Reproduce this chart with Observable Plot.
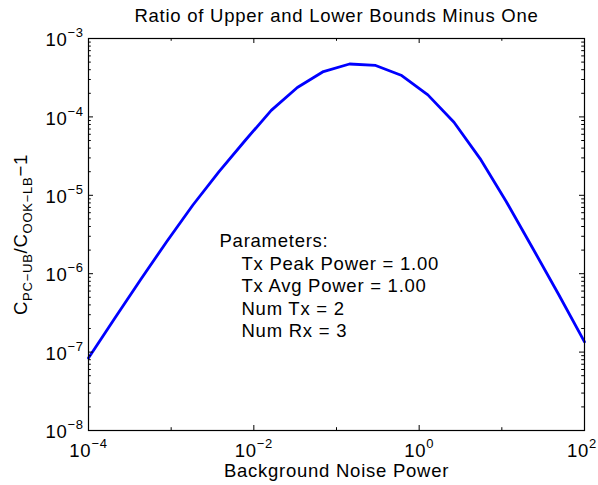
<!DOCTYPE html>
<html>
<head>
<meta charset="utf-8">
<script src="https://cdn.jsdelivr.net/npm/d3@7"></script>
<script src="https://cdn.jsdelivr.net/npm/@observablehq/plot@0.6"></script>
<style>
  html, body { margin: 0; padding: 0; background: #fff; }
</style>
</head>
<body>
<div id="chart"></div>
<script>
// ---- data ----
const noisePower = [1e-4, 2.069e-4, 4.281e-4, 8.859e-4, 1.833e-3, 3.793e-3, 7.848e-3, 1.624e-2, 3.360e-2, 6.952e-2,
                    0.1438, 0.2976, 0.6158, 1.274, 2.637, 5.456, 11.29, 23.36, 48.33, 100];
const ratioMinusOne = [8.41e-8, 2.68e-7, 8.43e-7, 2.58e-6, 7.52e-6, 2.01e-5, 5.00e-5, 1.21e-4, 2.37e-4, 3.79e-4,
                       4.73e-4, 4.53e-4, 3.37e-4, 1.91e-4, 8.55e-5, 2.94e-5, 8.34e-6, 2.16e-6, 5.51e-7, 1.35e-7];

const xDomain = [1e-4, 1e2];
const yDomain = [1e-8, 1e-3];
const xMajorTicks = [1e-4, 1e-2, 1e0, 1e2];
const xMajorLabels = ["10^{−4}", "10^{−2}", "10^{0}", "10^{2}"];
const xMinorTicks = [1e-3, 1e-1, 1e1];
const yMajorTicks = [1e-8, 1e-7, 1e-6, 1e-5, 1e-4, 1e-3];
const yMajorLabels = ["10^{−8}", "10^{−7}", "10^{−6}", "10^{−5}", "10^{−4}", "10^{−3}"];
const yMinorMantissas = [2, 3, 4, 5, 6, 7, 8, 9];

const titleText = "Ratio of Upper and Lower Bounds Minus One";
const xLabelText = "Background Noise Power";
const yLabelText = "C_{PC−UB}/C_{OOK−LB}−1";
const paramHeader = "Parameters:";
const paramLines = ["Tx Peak Power = 1.00", "Tx Avg Power = 1.00", "Num Tx = 2", "Num Rx = 3"];

// ---- layout ----
const W = 598, H = 485;
const mL = 88, mR = 14, mT = 38, mB = 55;
const innerW = W - mL - mR, innerH = H - mT - mB;
const majorLen = 5, minorLen = 2.8;
const FONT = "18.5px";
const SMALL = 13;
const SUP_RAISE = 9, SUB_DROP = 5;

const yMinorTicks = [];
for (const d of yMajorTicks.slice(0, -1)) for (const m of yMinorMantissas) yMinorTicks.push(d * m);

const curve = noisePower.map((x, i) => ({x, y: ratioMinusOne[i]}));
const tickStyle = {stroke: "black", strokeWidth: 1};

const svg = Plot.plot({
  width: W, height: H,
  marginLeft: mL, marginRight: mR, marginTop: mT, marginBottom: mB,
  style: {fontFamily: "'Liberation Sans', Arial, Helvetica, sans-serif", fontSize: FONT, letterSpacing: "0.75px", background: "#fff", color: "black"},
  x: {type: "log", domain: xDomain, axis: null},
  y: {type: "log", domain: yDomain, axis: null},
  marks: [
    Plot.line(curve, {x: "x", y: "y", stroke: "#0000ff", strokeWidth: 2.8, strokeLinejoin: "round"}),
    Plot.frame({stroke: "black", strokeWidth: 1.2}),
    // y ticks, left and right, inward
    Plot.tickY(yMajorTicks, {y: d => d, insetRight: innerW - majorLen, ...tickStyle}),
    Plot.tickY(yMajorTicks, {y: d => d, insetLeft: innerW - majorLen, ...tickStyle}),
    Plot.tickY(yMinorTicks, {y: d => d, insetRight: innerW - minorLen, ...tickStyle}),
    Plot.tickY(yMinorTicks, {y: d => d, insetLeft: innerW - minorLen, ...tickStyle}),
    // x ticks, bottom and top, inward
    Plot.tickX(xMajorTicks, {x: d => d, insetTop: innerH - majorLen, ...tickStyle}),
    Plot.tickX(xMajorTicks, {x: d => d, insetBottom: innerH - majorLen, ...tickStyle}),
    Plot.tickX(xMinorTicks, {x: d => d, insetTop: innerH - minorLen, ...tickStyle}),
    Plot.tickX(xMinorTicks, {x: d => d, insetBottom: innerH - minorLen, ...tickStyle}),
    // tick labels
    Plot.text(xMajorTicks, {x: d => d, text: (d, i) => xMajorLabels[i], frameAnchor: "bottom", dy: 26.7, lineAnchor: "bottom", textAnchor: "middle", fill: "black"}),
    Plot.text(yMajorTicks, {y: d => d, text: (d, i) => yMajorLabels[i], frameAnchor: "left", dx: -4.7, dy: 7.7, lineAnchor: "bottom", textAnchor: "end", fill: "black"}),
    // title and axis labels
    Plot.text([titleText], {frameAnchor: "top", dy: -16.5, lineAnchor: "bottom", textAnchor: "middle", fill: "black"}),
    Plot.text([xLabelText], {frameAnchor: "bottom", dy: 46, lineAnchor: "bottom", textAnchor: "middle", fill: "black"}),
    Plot.text([yLabelText], {frameAnchor: "left", dx: 26.7 - mL, rotate: -90, lineAnchor: "bottom", textAnchor: "middle", fill: "black"}),
    // parameter annotation
    Plot.text([paramHeader], {frameAnchor: "top-left", dx: 219 - mL, dy: 246.5 - mT, lineAnchor: "bottom", textAnchor: "start", fill: "black"}),
    Plot.text([paramLines.join("\n")], {frameAnchor: "top-left", dx: 241 - mL, dy: 336.5 - mT, lineAnchor: "bottom", textAnchor: "start", lineHeight: 22.5 / 18.5, fill: "black"})
  ]
});

// render simple TeX-like ^{...} and _{...} as tspans
const NS = "http://www.w3.org/2000/svg";
d3.select(svg).selectAll("text").each(function () {
  const s = this.textContent;
  if (!/[\^_]\{/.test(s) || this.querySelector("tspan")) return;
  const re = /([\^_])\{([^}]*)\}|([^\^_]+)/g;
  const parts = [];
  let m;
  while ((m = re.exec(s))) {
    if (m[3] !== undefined) parts.push({t: m[3], k: 0});
    else parts.push({t: m[2], k: m[1] === "^" ? -1 : 1});
  }
  this.textContent = "";
  let cur = 0;
  for (const p of parts) {
    const off = p.k === -1 ? -SUP_RAISE : p.k === 1 ? SUB_DROP : 0;
    const ts = document.createElementNS(NS, "tspan");
    ts.textContent = p.t;
    if (off !== cur) ts.setAttribute("dy", off - cur);
    if (p.k) ts.setAttribute("font-size", SMALL);
    cur = off;
    this.appendChild(ts);
  }
});

document.getElementById("chart").appendChild(svg);

// keep any label that runs past the right edge just inside the picture
d3.select(svg).selectAll("text").each(function () {
  const b = this.getBoundingClientRect();
  const sb = svg.getBoundingClientRect();
  const over = b.right - sb.left - (W - 1);
  if (over > 0) {
    const dx = +(this.getAttribute("dx") || 0);
    this.setAttribute("dx", dx - over);
  }
});
</script>
</body>
</html>
